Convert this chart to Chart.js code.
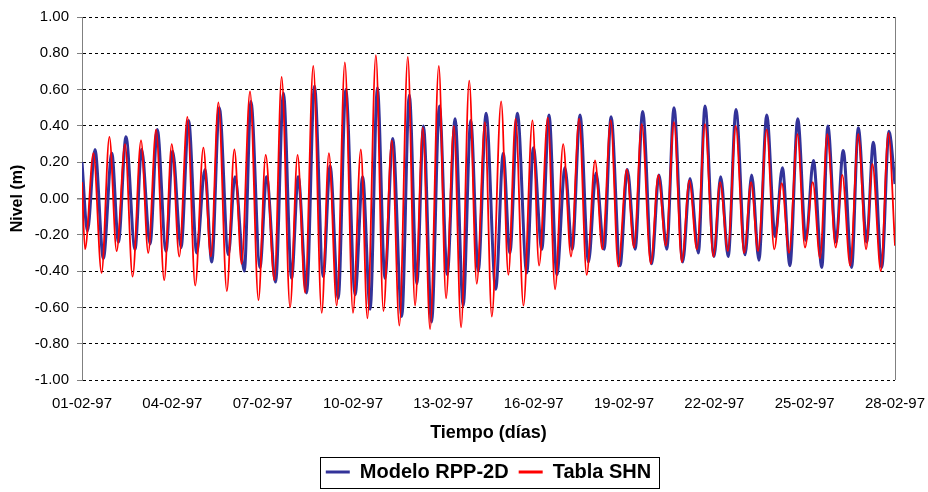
<!DOCTYPE html>
<html>
<head>
<meta charset="utf-8">
<script src="https://cdn.jsdelivr.net/npm/chart.js@4.4.1/dist/chart.umd.min.js"></script>
<style>
  body { margin: 0; background: #fff; }
  #wrap { width: 928px; height: 492px; }
</style>
</head>
<body>
<div id="wrap"><canvas id="tideChart"></canvas></div>
<script>
// Tick labels on the time axis (one every 3 days)
const xTickLabels = ['01-02-97', '04-02-97', '07-02-97', '10-02-97', '13-02-97',
                     '16-02-97', '19-02-97', '22-02-97', '25-02-97', '28-02-97'];

// Tabla SHN: high / low waters (days since 01-02-97, metres)
const shnDays = [
    0.00, 0.10, 0.38, 0.65, 0.91, 1.15, 1.43, 1.68, 1.96, 2.20, 2.46, 2.73, 2.98, 3.23, 3.50, 3.76, 4.03, 4.28, 4.53,
    4.81, 5.06, 5.30, 5.58, 5.86, 6.10, 6.39, 6.63, 6.91, 7.16, 7.41, 7.68, 7.96, 8.20, 8.46, 8.73,
    9.00, 9.26, 9.48, 9.76, 10.01, 10.29, 10.54, 10.82, 11.06, 11.32, 11.56, 11.85, 12.09, 12.35, 12.59, 12.86, 13.11, 13.38,
    13.61, 13.92, 14.16, 14.40, 14.66, 14.96, 15.18, 15.47, 15.71, 15.98, 16.24, 16.51, 16.76, 17.04, 17.28, 17.56, 17.81,
    18.09, 18.33, 18.59, 18.89, 19.14, 19.39, 19.66, 19.92, 20.17, 20.42, 20.69, 20.97, 21.19, 21.45, 21.71, 21.99, 22.22,
    22.45, 22.74, 22.99, 23.24, 23.48, 23.76, 24.01, 24.27, 24.51, 24.75, 25.03, 25.25, 25.51, 25.78, 26.04, 26.25, 26.53, 26.78, 27.00
];
const shnLevel = [
    0.09, -0.28, 0.25, -0.41, 0.34, -0.29, 0.30, -0.43, 0.32, -0.30, 0.38, -0.45, 0.30, -0.32, 0.45, -0.48, 0.28, -0.32, 0.53,
    -0.51, 0.27, -0.36, 0.59, -0.56, 0.24, -0.45, 0.67, -0.60, 0.24, -0.52, 0.73, -0.63, 0.25, -0.59, 0.75,
    -0.63, 0.27, -0.66, 0.79, -0.62, 0.32, -0.70, 0.78, -0.59, 0.39, -0.72, 0.73, -0.55, 0.40, -0.71, 0.65, -0.47, 0.42,
    -0.65, 0.535, -0.42, 0.44, -0.59, 0.43, -0.37, 0.445, -0.50, 0.30, -0.32, 0.44, -0.42, 0.21, -0.28, 0.43, -0.375,
    0.16, -0.27, 0.41, -0.36, 0.13, -0.26, 0.42, -0.35, 0.10, -0.28, 0.41, -0.32, 0.09, -0.29, 0.40, -0.30, 0.09,
    -0.29, 0.38, -0.28, 0.085, -0.30, 0.355, -0.27, 0.09, -0.33, 0.355, -0.27, 0.13, -0.37, 0.355, -0.28, 0.19, -0.40, 0.36, -0.26
];

// Modelo RPP-2D: high / low waters
const modelDays = [
    0.00, 0.18, 0.43, 0.71, 0.99, 1.21, 1.46, 1.76, 1.98, 2.26, 2.50, 2.79, 3.01, 3.29, 3.54, 3.81, 4.08, 4.31, 4.56,
    4.86, 5.08, 5.39, 5.61, 5.91, 6.13, 6.43, 6.69, 6.96, 7.18, 7.46, 7.72, 8.01, 8.24, 8.51, 8.76,
    9.07, 9.32, 9.57, 9.81, 10.06, 10.32, 10.62, 10.87, 11.12, 11.34, 11.61, 11.87, 12.13, 12.39, 12.66, 12.91, 13.16, 13.42,
    13.74, 13.99, 14.21, 14.46, 14.77, 14.99, 15.27, 15.51, 15.77, 16.04, 16.28, 16.54, 16.82, 17.07, 17.34, 17.57, 17.87,
    18.11, 18.37, 18.62, 18.92, 19.16, 19.42, 19.66, 19.95, 20.19, 20.47, 20.69, 20.99, 21.21, 21.46, 21.72, 22.02, 22.24,
    22.48, 22.74, 23.02, 23.26, 23.51, 23.77, 24.04, 24.29, 24.57, 24.77, 25.04, 25.28, 25.56, 25.78, 26.06, 26.28, 26.56, 26.80, 27.00
];
const modelLevel = [
    0.20, -0.18, 0.27, -0.33, 0.25, -0.24, 0.34, -0.28, 0.27, -0.25, 0.38, -0.29, 0.26, -0.27, 0.43, -0.30, 0.16, -0.35, 0.50,
    -0.31, 0.12, -0.40, 0.535, -0.38, 0.12, -0.46, 0.58, -0.44, 0.12, -0.52, 0.62, -0.43, 0.18, -0.55, 0.60,
    -0.53, 0.12, -0.61, 0.61, -0.44, 0.33, -0.65, 0.57, -0.47, 0.40, -0.68, 0.51, -0.42, 0.44, -0.59, 0.43, -0.40, 0.47,
    -0.50, 0.25, -0.30, 0.47, -0.41, 0.28, -0.28, 0.46, -0.42, 0.17, -0.28, 0.46, -0.35, 0.14, -0.28, 0.45, -0.37,
    0.16, -0.28, 0.48, -0.36, 0.13, -0.28, 0.50, -0.35, 0.11, -0.30, 0.51, -0.32, 0.12, -0.32, 0.49, -0.31, 0.13,
    -0.34, 0.46, -0.21, 0.17, -0.37, 0.44, -0.23, 0.21, -0.38, 0.40, -0.24, 0.265, -0.38, 0.39, -0.24, 0.31, -0.38, 0.37, 0.08
];

const toPoints = (days, levels) => days.map((d, i) => ({ x: d, y: levels[i] }));

Chart.defaults.font.family = "'Liberation Sans', Arial, sans-serif";
Chart.defaults.color = '#000';

// Box around the legend, like the spreadsheet original
const legendFrame = {
    id: 'legendFrame',
    afterDraw(chart) {
        const lg = chart.legend;
        if (!lg || !lg.legendHitBoxes || !lg.legendHitBoxes.length) return;
        const boxes = lg.legendHitBoxes;
        const left = Math.min(...boxes.map(b => b.left)) - 6;
        const right = Math.max(...boxes.map(b => b.left + b.width)) + 8;
        const mid = boxes[0].top + boxes[0].height / 2;
        const ctx = chart.ctx;
        ctx.save();
        ctx.strokeStyle = '#000';
        ctx.lineWidth = 1;
        ctx.strokeRect(Math.round(left) + 0.5, Math.round(mid - 15) + 0.5, Math.round(right - left), 31);
        ctx.restore();
    }
};

new Chart(document.getElementById('tideChart'), {
    type: 'line',
    data: {
        datasets: [
            {
                label: 'Modelo RPP-2D',
                data: toPoints(modelDays, modelLevel),
                borderColor: '#333399',
                backgroundColor: '#333399',
                borderWidth: 3,
                pointRadius: 0,
                cubicInterpolationMode: 'monotone',
                order: 2
            },
            {
                label: 'Tabla SHN',
                data: toPoints(shnDays, shnLevel),
                borderColor: '#FF0000',
                backgroundColor: '#FF0000',
                borderWidth: 1.8,
                pointRadius: 0,
                cubicInterpolationMode: 'monotone',
                order: 1
            }
        ]
    },
    options: {
        responsive: true,
        maintainAspectRatio: false,
        animation: false,
        layout: { padding: { top: 12, right: 33, left: 0, bottom: 0 } },
        plugins: {
            tooltip: { enabled: false },
            legend: {
                position: 'bottom',
                fullSize: false,
                labels: {
                    font: { size: 20, weight: 'bold' },
                    boxWidth: 24,
                    boxHeight: 3,
                    padding: 10,
                    generateLabels: chart => chart.data.datasets.map((ds, i) => ({
                        text: ds.label,
                        fillStyle: ds.borderColor,
                        strokeStyle: ds.borderColor,
                        lineWidth: 0,
                        hidden: false,
                        datasetIndex: i,
                        fontColor: '#000'
                    }))
                }
            }
        },
        scales: {
            x: {
                type: 'linear',
                min: 0,
                max: 27,
                afterFit: s => { s.height = 72; s.paddingLeft = 0; s.paddingRight = 0; },
                ticks: {
                    stepSize: 3,
                    autoSkip: false,
                    maxRotation: 0,
                    padding: 15,
                    font: { size: 15 },
                    callback: v => xTickLabels[Math.round(v / 3)]
                },
                grid: {
                    drawTicks: false,
                    color: c => (c.tick && c.tick.value === 27) ? '#808080' : 'transparent'
                },
                border: { display: false },
                title: {
                    display: true,
                    text: 'Tiempo (días)',
                    font: { size: 18, weight: 'bold' },
                    padding: { top: 0, bottom: 8 }
                }
            },
            y: {
                min: -1,
                max: 1,
                afterFit: s => { s.width = 82; },
                ticks: {
                    stepSize: 0.2,
                    padding: 8,
                    font: { size: 15 },
                    callback: v => v.toFixed(2)
                },
                grid: {
                    color: '#000',
                    lineWidth: c => (c.tick && Math.abs(c.tick.value) < 1e-9) ? 1.5 : 1,
                    tickLength: 5,
                    tickColor: '#808080',
                    tickBorderDash: []
                },
                border: {
                    display: true,
                    color: '#808080',
                    width: 1,
                    dash: c => (c.tick && Math.abs(c.tick.value) < 1e-9) ? [] : [3, 3]
                },
                title: {
                    display: true,
                    text: 'Nivel (m)',
                    font: { size: 16, weight: 'bold' },
                    padding: { top: 8, bottom: 0 }
                }
            }
        }
    },
    plugins: [legendFrame]
});
</script>
</body>
</html>
